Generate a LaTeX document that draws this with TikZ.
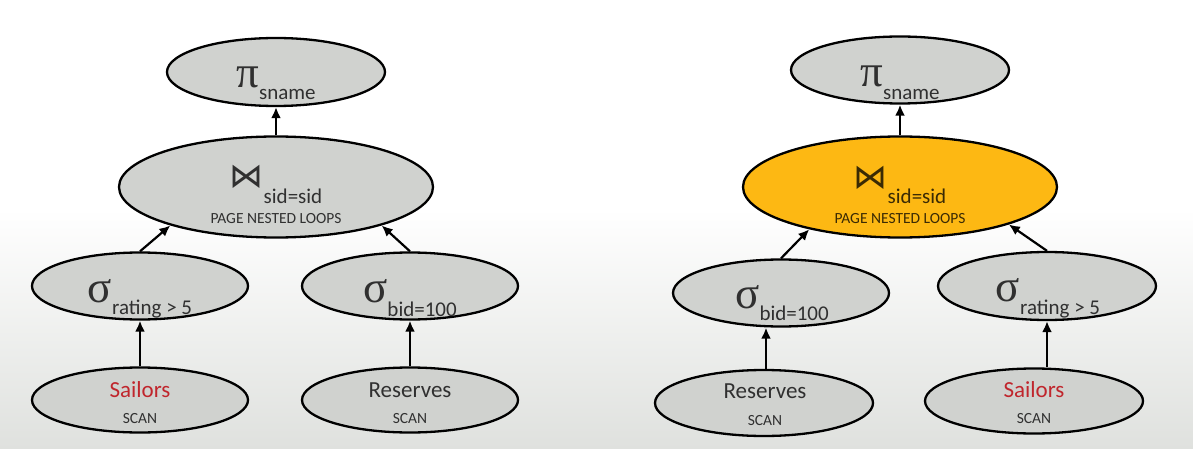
\documentclass[tikz,border=0pt]{standalone}
\usepackage{fontspec}
\setmainfont{Carlito}
\newfontfamily\greekfont{Liberation Serif}
\newfontfamily\symfont{DejaVu Sans}
\usetikzlibrary{shapes.geometric,arrows.meta}
\definecolor{nodegray}{HTML}{D0D2CF}
\definecolor{joinorange}{HTML}{FDB813}
\definecolor{txtgray}{HTML}{303030}
\definecolor{txtbrown}{HTML}{3A2A04}
\definecolor{relred}{HTML}{C0262D}
\definecolor{bgbottom}{HTML}{DFE1DE}
\newcommand{\gk}[1]{{\greekfont\fontsize{45}{45}\selectfont #1}}
\newcommand{\jn}{{\symfont\fontsize{34}{34}\selectfont ⋈}}
\newcommand{\sbx}[2]{\raisebox{-#1pt}{\fontsize{21}{21}\selectfont #2}}
\tikzset{
  opnode/.style={ellipse, draw=black, line width=2.3pt, fill=nodegray, inner sep=0pt},
  small/.style={minimum width=216pt, minimum height=67pt},
  big/.style={minimum width=314pt, minimum height=101pt},
  lbl/.style={anchor=base, inner sep=0pt, text=txtgray},
  edge/.style={line width=2.2pt, -{Latex[length=11pt,width=10pt]}},
  relname/.style={lbl, font=\fontsize{23}{23}\selectfont},
  scanlbl/.style={lbl, font=\fontsize{15.5}{15.5}\selectfont},
}
\begin{document}
\begin{tikzpicture}[x=1pt, y=-1pt]
\useasboundingbox (0,0) rectangle (1193,449);
\fill[white] (0,0) rectangle (1193,210);
\shade[top color=white, bottom color=bgbottom] (0,209) rectangle (1193,449);

% ---------- left tree ----------
\node[opnode, minimum width=218pt, minimum height=68pt] (pL) at (276,72) {};
\node[opnode, big] (jL) at (276,187) {};
\node[opnode, small] (srL) at (140,286) {};
\node[opnode, small] (sbL) at (410,286) {};
\node[opnode, minimum width=216pt, minimum height=65pt] (saL) at (140,400) {};
\node[opnode, minimum width=216pt, minimum height=65pt] (reL) at (410,400) {};

\node[lbl] (tpL) at (276,88) {\gk{π}\sbx{12}{sname}};
\node[lbl] (tjL) at (276,188) {\jn\sbx{16}{sid=sid}};
\node[lbl, font=\fontsize{15.5}{15.5}\selectfont] (tjL2) at (276,223) {PAGE NESTED LOOPS};
\node[lbl] (tsrL) at (140,302) {\gk{σ}\sbx{12}{rating > 5}};
\node[lbl] (tsbL) at (410,302) {\gk{σ}\sbx{14}{bid=100}};
\node[relname, text=relred] (tsaL) at (140,397) {Sailors};
\node[scanlbl] (tsaL2) at (140,423) {SCAN};
\node[relname] (treL) at (410,397) {Reserves};
\node[scanlbl] (treL2) at (410,423) {SCAN};

\draw[edge] (jL.north) -- (pL.south);
\draw[edge] (srL.north) -- (jL.200);
\draw[edge] (sbL.north) -- (jL.340);
\draw[edge] (saL.north) -- (srL.south);
\draw[edge] (reL.north) -- (sbL.south);

% ---------- right tree ----------
\node[opnode, minimum width=218pt, minimum height=67pt] (pR) at (900,70) {};
\node[opnode, big, fill=joinorange] (jR) at (900,187) {};
\node[opnode, small] (sbR) at (781,293) {};
\node[opnode, minimum width=218pt, minimum height=68pt] (srR) at (1047,286) {};
\node[opnode, minimum width=218pt, minimum height=66pt] (reR) at (764,403) {};
\node[opnode, minimum width=218pt, minimum height=65pt] (saR) at (1034,401) {};

\node[lbl] (tpR) at (900,87) {\gk{π}\sbx{13}{sname}};
\node[lbl, text=txtbrown] (tjR) at (900,189) {\jn\sbx{15}{sid=sid}};
\node[lbl, text=txtbrown, font=\fontsize{15.5}{15.5}\selectfont] (tjR2) at (900,223) {PAGE NESTED LOOPS};
\node[lbl] (tsbR) at (782,308) {\gk{σ}\sbx{12}{bid=100}};
\node[lbl] (tsrR) at (1048,301) {\gk{σ}\sbx{13}{rating > 5}};
\node[relname] (treR) at (765,398) {Reserves};
\node[scanlbl] (treR2) at (765,425) {SCAN};
\node[relname, text=relred] (tsaR) at (1034,397) {Sailors};
\node[scanlbl] (tsaR2) at (1034,423) {SCAN};

\draw[edge] (jR.north) -- (pR.south);
\draw[edge] (sbR.north) -- (jR.205);
\draw[edge] (srR.north) -- (jR.341);
\draw[edge] (reR.north -| 766,0) -- (sbR.south -| 766,0);
\draw[edge] (saR.north -| 1047,0) -- (srR.south);
\end{tikzpicture}
\end{document}
